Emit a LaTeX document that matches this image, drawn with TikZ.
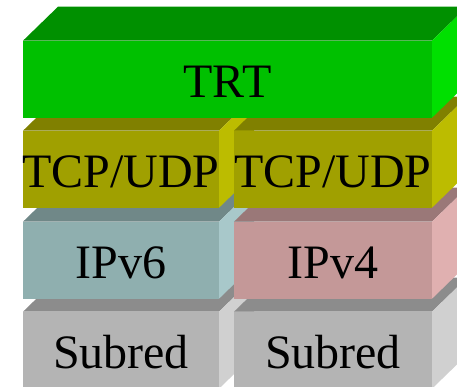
\documentclass[tikz,border=0pt]{standalone}
\usepackage{fontspec}
\setmainfont{Liberation Serif}
% face colours: F = front, T = top, S = right side
\definecolor{trtF}{HTML}{00C000}
\definecolor{trtT}{HTML}{009000}
\definecolor{trtS}{HTML}{00E000}
\definecolor{tcpF}{HTML}{A0A000}
\definecolor{tcpT}{HTML}{808000}
\definecolor{tcpS}{HTML}{BCBC00}
\definecolor{ipsixF}{HTML}{8FAFAF}
\definecolor{ipsixT}{HTML}{708888}
\definecolor{ipsixS}{HTML}{A8C8CA}
\definecolor{ipfourF}{HTML}{C49898}
\definecolor{ipfourT}{HTML}{9A7878}
\definecolor{ipfourS}{HTML}{E0B0B0}
\definecolor{netF}{HTML}{B4B4B4}
\definecolor{netT}{HTML}{8C8C8C}
\definecolor{netS}{HTML}{D0D0D0}
\tikzset{layertext/.style={anchor=base, inner sep=0pt, text=black,
  font=\fontsize{48}{48}\selectfont}}
% #1 node name, #2 left x, #3 top y of the front face, #4 width, #5 colour prefix, #6 label
\newcommand\layerbox[6]{%
  \fill[#5T] (#2,#3) -- ++(35,-34) -- ++(#4,0) -- ++(-35,34) -- cycle;
  \fill[#5S] ({#2+#4},#3) -- ++(35,-34) -- ++(0,77) -- ++(-35,34) -- cycle;
  \fill[#5F] (#2,#3) rectangle ++(#4,77);
  \node[layertext] (#1) at ({#2+#4/2},{#3+56.3}) {#6};
}
\begin{document}
\begin{tikzpicture}[x=1pt,y=-1pt]
\useasboundingbox (0,0) rectangle (457,386);
\clip (0,0) rectangle (457,386);
% bottom row first so the rows above cover its top faces
\layerbox{netA}{23}{311.7}{196}{net}{Subred}
\layerbox{netB}{234}{311.7}{198}{net}{Subred}
\layerbox{ipv6}{23}{221.7}{196}{ipsix}{IPv6}
\layerbox{ipv4}{234}{221.7}{198}{ipfour}{IPv4}
\layerbox{tcpA}{23}{130.7}{196}{tcp}{TCP/UDP}
\layerbox{tcpB}{234}{130.7}{198}{tcp}{TCP/UDP}
\layerbox{trt}{23}{40.7}{409}{trt}{TRT}
\end{tikzpicture}
\end{document}
